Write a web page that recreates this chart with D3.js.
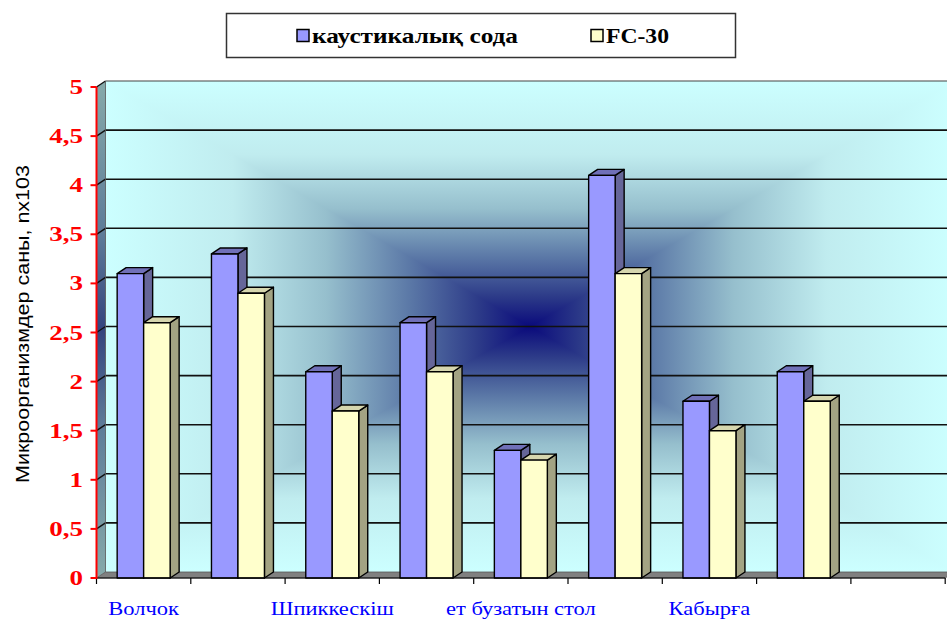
<!DOCTYPE html>
<html>
<head>
<meta charset="utf-8">
<script src="https://cdn.jsdelivr.net/npm/d3@7"></script>
<style>
html,body{margin:0;padding:0;background:#fff;}
svg{display:block;}
</style>
</head>
<body>
<svg id="chart" width="947" height="621"></svg>
<script>
// ---- data ----
const categories = ["Волчок", "", "Шпиккескіш", "", "ет бузатын стол", "", "Кабырға", "", ""];
const seriesNames = ["каустикалық сода", "FC-30"];
const causticSoda = [3.1, 3.3, 2.1, 2.6, 1.3, 4.1, 1.8, 2.1, null];
const fc30 = [2.6, 2.9, 1.7, 2.1, 1.2, 3.1, 1.5, 1.8, null];
const yTicks = [0, 0.5, 1, 1.5, 2, 2.5, 3, 3.5, 4, 4.5, 5];
const yTitle = "Микроорганизмдер саны, nx103";

const series = [causticSoda, fc30];
const frontColors = ["#9999ff", "#ffffcc"];
const sideColors = ["#666699", "#a3a383"];
const topColors = ["#7070b8", "#d6d6ae"];

// ---- layout ----
const svg = d3.select("#chart");
const DX = 9, DY = -6;
const x = d3.scaleBand().domain(d3.range(categories.length)).range([96.5, 945.2]).padding(0);
const xs = d3.scaleBand().domain(d3.range(series.length)).range([0, x.bandwidth()]).paddingInner(0).paddingOuter(0.78);
const y = d3.scaleLinear().domain([0, 5]).range([578, 87]);

const wx0 = x.range()[0] + DX, wx1 = x.range()[1] + DX;
const wy0 = y(5) + DY, wy1 = y(0) + DY;
const cx = (wx0 + wx1) / 2, cy = (wy0 + wy1) / 2;

const defs = svg.append("defs");
const stops = [[0, "#0a0a7c"], [0.12, "#2c3a88"], [0.28, "#5a77a6"], [0.48, "#96bfcd"], [0.7, "#c0ecef"], [1, "#ccffff"]];
function grad(id, x1, y1, x2, y2) {
  const g = defs.append("linearGradient").attr("id", id).attr("gradientUnits", "userSpaceOnUse")
    .attr("x1", x1).attr("y1", y1).attr("x2", x2).attr("y2", y2);
  stops.forEach(s => g.append("stop").attr("offset", s[0]).attr("stop-color", s[1]));
}
grad("gTop", cx, cy, cx, wy0);
grad("gBot", cx, cy, cx, wy1);
grad("gLeft", cx, cy, wx0, cy);
grad("gRight", cx, cy, wx1, cy);
const sg = defs.append("linearGradient").attr("id", "gSide").attr("x1", 0).attr("y1", 0).attr("x2", 0).attr("y2", 1);
[[0, "#86aaaa"], [0.3, "#5f7d99"], [0.5, "#34447e"], [0.7, "#5f7d99"], [1, "#86aaaa"]].forEach(s => sg.append("stop").attr("offset", s[0]).attr("stop-color", s[1]));

// back wall (rectangular "from centre" gradient)
const wall = svg.append("g");
wall.append("rect").attr("x", wx0).attr("y", wy0).attr("width", cx - wx0).attr("height", wy1 - wy0).attr("fill", "url(#gLeft)");
wall.append("rect").attr("x", cx).attr("y", wy0).attr("width", wx1 - cx).attr("height", wy1 - wy0).attr("fill", "url(#gRight)");
const tri = (pts, fill) => wall.append("polygon").attr("points", pts.map(p => p.join(",")).join(" ")).attr("fill", fill);
tri([[wx0, wy0], [wx1, wy0], [cx, cy]], "url(#gTop)");
tri([[wx0, wy1], [wx1, wy1], [cx, cy]], "url(#gBot)");

// side wall
const x0 = x.range()[0];
svg.append("polygon")
  .attr("points", [[x0, y(5)], [wx0, wy0], [wx0, wy1], [x0, y(0)]].map(p => p.join(",")).join(" "))
  .attr("fill", "url(#gSide)");

// gridlines
const grid = svg.append("g");
yTicks.filter(t => t > 0).forEach(t => {
  grid.append("line").attr("x1", wx0).attr("x2", wx1).attr("y1", y(t) + DY).attr("y2", y(t) + DY)
    .attr("stroke", t === 5 ? "#444" : "#111").attr("stroke-width", t === 5 ? 1.2 : 1.6);
  grid.append("line").attr("x1", x0).attr("x2", wx0).attr("y1", y(t)).attr("y2", y(t) + DY)
    .attr("stroke", "#111").attr("stroke-width", 1.4);
});
svg.append("line").attr("x1", wx0).attr("x2", wx0).attr("y1", wy0).attr("y2", wy1).attr("stroke", "#555").attr("stroke-width", 0.8);

// floor
svg.append("polygon")
  .attr("points", [[x0, y(0)], [x.range()[1], y(0)], [wx1, wy1], [wx0, wy1]].map(p => p.join(",")).join(" "))
  .attr("fill", "#808080").attr("stroke", "#555").attr("stroke-width", 0.8);

// bars
const bars = svg.append("g").attr("stroke", "#000").attr("stroke-width", 1.4).attr("stroke-linejoin", "round");
categories.forEach((c, i) => {
  series.forEach((s, j) => {
    const v = s[i];
    if (v == null) return;
    const bx = x(i) + xs(j), bw = xs.bandwidth();
    const top = y(v), bot = y(0);
    const g = bars.append("g");
    g.append("polygon").attr("points", [[bx + bw, top], [bx + bw + DX, top + DY], [bx + bw + DX, bot + DY], [bx + bw, bot]].map(p => p.join(",")).join(" ")).attr("fill", sideColors[j]);
    g.append("polygon").attr("points", [[bx, top], [bx + DX, top + DY], [bx + bw + DX, top + DY], [bx + bw, top]].map(p => p.join(",")).join(" ")).attr("fill", topColors[j]);
    g.append("rect").attr("x", bx).attr("y", top).attr("width", bw).attr("height", bot - top).attr("fill", frontColors[j]);
  });
});

// x axis
const xAxisG = svg.append("g");
xAxisG.append("line").attr("x1", x0).attr("x2", x.range()[1]).attr("y1", y(0)).attr("y2", y(0)).attr("stroke", "#000").attr("stroke-width", 1.2);
d3.range(categories.length + 1).forEach(i => {
  const tx = x0 + i * x.step();
  xAxisG.append("line").attr("x1", tx).attr("x2", tx).attr("y1", y(0)).attr("y2", y(0) + 6).attr("stroke", "#000").attr("stroke-width", 1.2);
});
categories.forEach((c, i) => {
  if (!c) return;
  const tx = x(i) + x.bandwidth() / 2;
  svg.append("text").attr("transform", `translate(${tx},615) scale(1.25,1)`)
    .attr("text-anchor", "middle").attr("fill", "#0000ff")
    .attr("font-family", "'Liberation Serif','Times New Roman',serif").attr("font-size", 18).text(c);
});

// y axis (red)
const yAxisG = svg.append("g");
yAxisG.append("line").attr("x1", x0).attr("x2", x0).attr("y1", y(5)).attr("y2", y(0) + 1).attr("stroke", "#ff0000").attr("stroke-width", 2);
yTicks.forEach(t => {
  yAxisG.append("line").attr("x1", x0 - 6).attr("x2", x0).attr("y1", y(t)).attr("y2", y(t)).attr("stroke", "#ff0000").attr("stroke-width", 2);
  yAxisG.append("text").attr("transform", `translate(83,${y(t) + 7}) scale(1.35,1)`)
    .attr("text-anchor", "end").attr("fill", "#ff0000").attr("font-weight", "bold")
    .attr("font-family", "'Liberation Serif','Times New Roman',serif").attr("font-size", 20)
    .text(String(t).replace(".", ","));
});

// y title
svg.append("text").attr("transform", "translate(29,324) rotate(-90)")
  .attr("text-anchor", "middle").attr("fill", "#000")
  .attr("font-family", "'Liberation Sans',Arial,sans-serif").attr("font-size", 18)
  .attr("textLength", 318).attr("lengthAdjust", "spacingAndGlyphs")
  .text(yTitle);

// legend
const leg = svg.append("g");
leg.append("rect").attr("x", 226.5).attr("y", 13.5).attr("width", 509).attr("height", 44).attr("fill", "#fff").attr("stroke", "#333").attr("stroke-width", 1.5);
const legX = [297, 591], legTextW = [206, 63];
seriesNames.forEach((n, j) => {
  leg.append("rect").attr("x", legX[j]).attr("y", 29.5).attr("width", 12).attr("height", 12).attr("fill", frontColors[j]).attr("stroke", "#000").attr("stroke-width", 1.5);
  leg.append("text").attr("x", legX[j] + 15).attr("y", 42.5).attr("font-family", "'Liberation Serif','Times New Roman',serif")
    .attr("font-weight", "bold").attr("font-size", 21).attr("fill", "#000")
    .attr("textLength", legTextW[j]).attr("lengthAdjust", "spacingAndGlyphs").text(n);
});
</script>
</body>
</html>
